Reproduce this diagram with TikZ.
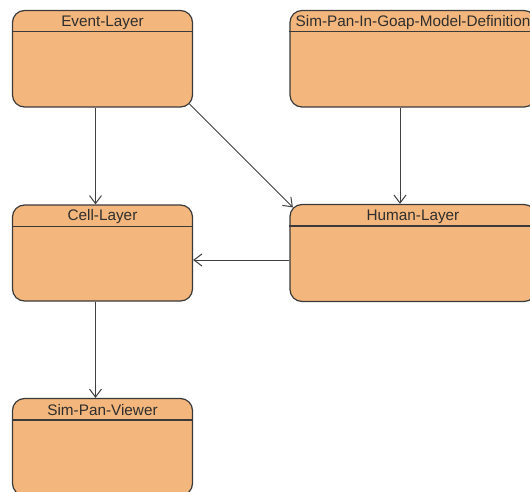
\documentclass[tikz,border=0pt]{standalone}
\usepackage{fontspec}
\setmainfont{Liberation Sans}
\usetikzlibrary{arrows.meta,calc}
\definecolor{layerfill}{HTML}{F3B67C}
\definecolor{layerline}{HTML}{3A3A3A}
\definecolor{layertext}{HTML}{2E2E2E}
\definecolor{linkline}{HTML}{404040}
\tikzset{
  layerbox/.style={draw=layerline, fill=layerfill, line width=1.2pt,
    rounded corners=12pt, rectangle, inner sep=0pt},
  layername/.style={text=layertext, font=\fontsize{15.3}{17}\selectfont,
    inner sep=0pt, anchor=center},
  headline/.style={draw=layerline, line width=1.2pt},
  link/.style={draw=linkline, line width=1pt,
    -{Straight Barb[length=8pt,width=12pt,line width=1pt]}}
}
\newcommand{\layer}[6]{%
  % #1 name, #2 centre x, #3 centre y, #4 width, #5 height, #6 title
  \node[layerbox, minimum width=#4pt, minimum height=#5pt] (#1) at (#2,#3) {};
  \draw[headline] ($(#1.north west)+(0,22)$) -- ($(#1.north east)+(0,22)$);
  \node[layername] (#1-title) at ($(#1.north)+(0,12.5)$) {#6};
}
\begin{document}
\begin{tikzpicture}[x=1pt, y=-1pt]
  \useasboundingbox (0,0) rectangle (530,492);
  \clip (0,0) rectangle (530,492);
  \fill[white] (0,0) rectangle (530,492);

  \layer{ev}{102.5}{58.75}{180}{96.5}{Event-Layer}
  \layer{sp}{413}{58.75}{246}{96.5}{Sim-Pan-In-Goap-Model-Definition}
  \layer{ce}{102.5}{253}{180}{96}{Cell-Layer}
  \layer{hu}{413}{253}{246}{97}{Human-Layer}
  \layer{vi}{102.5}{447}{180}{97}{Sim-Pan-Viewer}

  \draw[link] ([xshift=-7pt]ev.south) -- ([xshift=-7pt]ce.north);
  \draw[link] ($(ev.south east)+(-3.5,-3.5)$) -- ($(hu.north west)+(3.5,3.5)$);
  \draw[link] ([xshift=-13pt]sp.south) -- ([xshift=-13pt]hu.north);
  \draw[link] ([yshift=-7pt]hu.west) -- ([yshift=-7pt]ce.east);
  \draw[link] ([xshift=-7pt]ce.south) -- ([xshift=-7pt]vi.north);
\end{tikzpicture}
\end{document}
